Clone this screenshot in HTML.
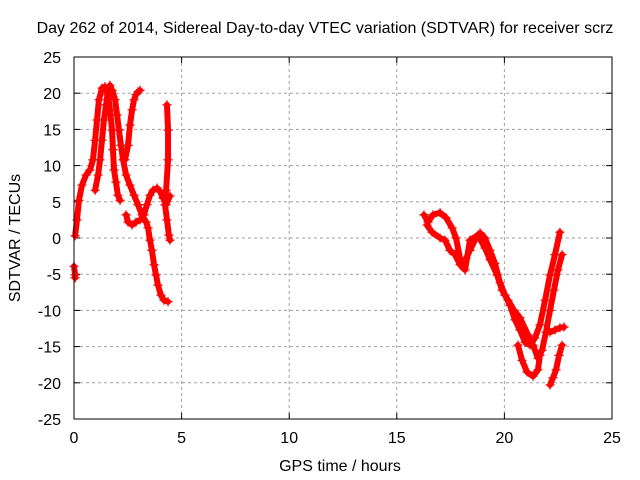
<!DOCTYPE html>
<html><head><meta charset="utf-8"><style>
body{margin:0;background:#fff}
svg{display:block;font-family:"Liberation Sans",sans-serif}
</style></head><body>
<svg id="chart" width="640" height="480" xmlns="http://www.w3.org/2000/svg">
<rect width="640" height="480" fill="#fff"/>
<text x="325" y="33" font-size="16" text-anchor="middle">Day 262 of 2014, Sidereal Day-to-day VTEC variation (SDTVAR) for receiver scrz</text>
<text x="340" y="471" font-size="16" text-anchor="middle">GPS time / hours</text>
<text transform="translate(20,238) rotate(-90)" font-size="16" text-anchor="middle">SDTVAR / TECUs</text>
<g id="grid"></g><g id="ticks"></g><g id="marks"></g>
<rect x="74" y="57" width="538" height="362" fill="none" stroke="#000" stroke-width="1"/>
</svg>
<script>
const xTicks=[0,5,10,15,20,25];
const yTicks=[-25,-20,-15,-10,-5,0,5,10,15,20,25];
const t1h=[0.05,0.14,0.23,0.37,0.56,0.74,0.88,0.98,1.07,1.16,1.30,1.44,1.58,1.67,1.77,1.81,1.86,1.95,2.04,2.14];
const t1v=[0.3,2.5,5.2,7.3,8.7,9.4,10.8,13.5,16.3,19.1,20.7,20.9,19.8,17.7,14.9,12.2,9.4,7.7,5.9,5.2];
const t2h=[0.98,1.12,1.21,1.30,1.39,1.49,1.58,1.67,1.77,1.91,2.0,2.09,2.18,2.28,2.42,2.60,2.79,2.97,3.16,3.35,3.44,3.53,3.62,3.72,3.81,3.90,4.04,4.18,4.37];
const t2v=[6.6,8.7,10.8,13.5,16.3,18.4,20.4,21.1,20.4,19.1,17.0,14.9,12.8,10.8,8.7,7.3,5.9,4.6,3.2,2.2,1.4,-0.3,-1.7,-3.7,-5.1,-6.5,-7.9,-8.6,-8.8];
const t3h=[2.37,2.51,2.60,2.70,2.79,2.88,2.97,3.07];
const t3v=[10.8,12.8,15.6,17.7,19.1,19.8,20.2,20.4];
const t4h=[2.42,2.51,2.70,2.88,3.07,3.25,3.39,3.53,3.67,3.86,4.0,4.14,4.28,4.46];
const t4v=[3.2,2.2,1.8,2.2,2.5,3.2,4.6,5.9,6.6,6.9,6.4,5.5,4.6,5.8];
const t5h=[4.32,4.37,4.37,4.28,4.23,4.32,4.41,4.46];
const t5v=[18.4,14.9,10.8,6.6,4.6,2.5,0.4,-0.3];
const t6h=[0.0,0.05,0.05];
const t6v=[-3.9,-5.1,-5.5];
const r1h=[16.26,16.45,16.68,17.01,17.29,17.57,17.75,17.94,18.08,18.22,18.40,18.63,18.87,19.10,19.33,19.56,19.80,20.03,20.26,20.49,20.72,20.96,21.19,21.42,21.65,21.89,22.12,22.35,22.58];
const r1v=[3.2,2.2,3.2,3.5,2.8,1.4,0,-2.8,-3.7,-2.8,-1.7,-0.3,0.7,0,-1.7,-3.5,-6.2,-7.9,-9.3,-11.3,-12.7,-14.4,-14.8,-13.8,-12.0,-8.6,-5.1,-2.3,0.8];
const r2h=[16.40,16.64,17.01,17.24,17.47,17.70,17.94,18.17,18.40,18.77,19.10,19.33,19.66,19.89,20.17,20.45,20.72,21.10,21.33,21.56,21.75,21.93,22.12,22.30,22.49,22.68];
const r2v=[1.8,0.8,0,-0.3,-1.7,-2.3,-3.7,-4.4,-0.3,0.4,-1.4,-3.0,-5.1,-7.2,-8.6,-10.0,-11.0,-13.4,-14.8,-16.6,-15.5,-13.0,-10.0,-7.2,-4.4,-2.3];
const r3h=[20.63,20.82,21.05,21.33,21.56,21.65];
const r3v=[-14.8,-16.9,-18.5,-19.1,-18.2,-16.2];
const r4h=[22.12,22.26,22.40,22.54,22.68];
const r4v=[-20.3,-19.3,-18.2,-16.2,-14.8];
const r5h=[22.12,22.35,22.58,22.77];
const r5v=[-13.0,-12.7,-12.4,-12.3];
const tracks=[[t1h,t1v],[t2h,t2v],[t3h,t3v],[t4h,t4v],[t5h,t5v],[t6h,t6v],[r1h,r1v],[r2h,r2v],[r3h,r3v],[r4h,r4v],[r5h,r5v]];
const X0=74,X1=612,Y0=419,Y1=57;
const xs=h=>X0+(h-0)/25*(X1-X0);
const ys=v=>Y0-(v+25)/50*(Y0-Y1);
const NS="http://www.w3.org/2000/svg";
const grid=document.getElementById('grid'),ticks=document.getElementById('ticks'),marks=document.getElementById('marks');
function mk(tag,attrs,parent){const e=document.createElementNS(NS,tag);for(const k in attrs)e.setAttribute(k,attrs[k]);parent.appendChild(e);return e;}
xTicks.forEach(t=>{const x=xs(t);
 if(t>0&&t<25){const g=mk('line',{x1:x,x2:x,y1:Y1,y2:Y0,stroke:'#a0a0a0','stroke-dasharray':'3,3'},grid);
 
 }
 mk('line',{x1:x,x2:x,y1:Y0,y2:Y0-6,stroke:'#000'},ticks);mk('line',{x1:x,x2:x,y1:Y1,y2:Y1+6,stroke:'#000'},ticks);
 const l=mk('text',{x:x,y:Y0+24,'font-size':16,'text-anchor':'middle'},ticks);l.textContent=t;
 
 });
yTicks.forEach(t=>{const y=ys(t);
 if(t>-25&&t<25){const g=mk('line',{x1:X0,x2:X1,y1:y,y2:y,stroke:'#a0a0a0','stroke-dasharray':'3,3'},grid);
 
 }
 mk('line',{x1:X0,x2:X0+6,y1:y,y2:y,stroke:'#000'},ticks);mk('line',{x1:X1,x2:X1-6,y1:y,y2:y,stroke:'#000'},ticks);
 const l=mk('text',{x:X0-13,y:y+6,'font-size':16,'text-anchor':'end'},ticks);l.textContent=t;
 
 });
tracks.forEach((tr,i)=>{const [hh,vv]=tr;
 const pts=hh.map((h,j)=>xs(h)+','+ys(vv[j])).join(' ');
 const p=mk('polyline',{points:pts,fill:'none',stroke:'#f00','stroke-width':6,'stroke-linejoin':'round','stroke-linecap':'round'},marks);
 
 
 hh.forEach((h,j)=>{const x=xs(h),y=ys(vv[j]);
  const m=mk('path',{d:`M${x-4.5},${y}h9M${x},${y-4.5}v9`,stroke:'#f00','stroke-width':1.3},marks);
  
  });
});
</script>
</body></html>
